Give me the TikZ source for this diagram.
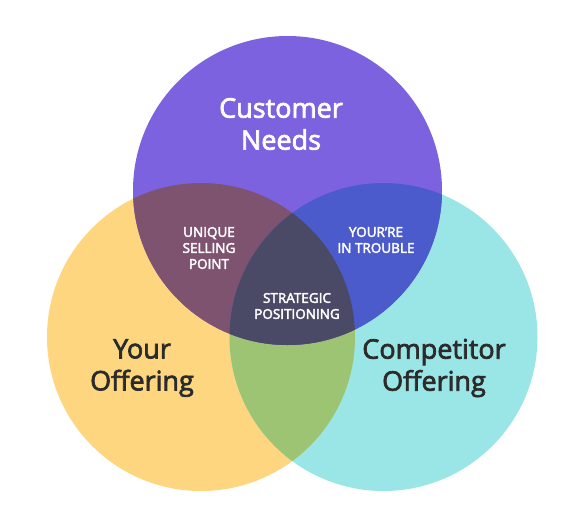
\documentclass[tikz,border=0pt]{standalone}
\usepackage{fontspec}
\setmainfont{Open Sans}
\newcommand\thick[2]{\special{pdf:literal direct 2 Tr #1 w}#2\special{pdf:literal direct 0 Tr}}
\definecolor{cpurple}{HTML}{7C62DE}
\definecolor{cyellow}{HTML}{FDD67F}
\definecolor{ccyan}{HTML}{9AE5E6}
\definecolor{cmaroon}{HTML}{7E5370}
\definecolor{cblue}{HTML}{4B5BCB}
\definecolor{cgreen}{HTML}{9DC473}
\definecolor{cdark}{HTML}{4A4A66}
\definecolor{ctext}{HTML}{2B2B2B}
\begin{document}
\begin{tikzpicture}[x=1pt,y=-1pt,
  bigw/.style={font=\fontsize{27}{32}\selectfont, text=white, align=center, inner sep=0},
  bigd/.style={font=\fontsize{27}{32}\selectfont, text=ctext, align=center, inner sep=0},
  smallw/.style={font=\fontsize{13.5}{16}\selectfont, text=white, align=center, inner sep=0}]
\useasboundingbox (0,0) rectangle (584,528);
\def\Top{(287.5,190.5) circle[radius=154.5]}
\def\Left{(201,337) circle[radius=154]}
\def\Right{(383.5,337) circle[radius=154]}
\fill[cyellow] \Left;
\fill[ccyan] \Right;
\fill[cpurple] \Top;
\begin{scope}\clip \Left; \fill[cgreen] \Right; \end{scope}
\begin{scope}\clip \Top; \fill[cmaroon] \Left; \end{scope}
\begin{scope}\clip \Top; \fill[cblue] \Right; \end{scope}
\begin{scope}\clip \Top; \clip \Left; \fill[cdark] \Right; \end{scope}
\node[bigw] (cust) at (281,124) {\thick{0.7}{Customer}\\\thick{0.7}{Needs}};
\node[bigd] (your) at (142,368) {\thick{0.7}{Your}\\\thick{0.7}{Offering}};
\node[bigd] (comp) at (434,368) {\thick{0.7}{Competitor}\\\thick{0.7}{Offering}};
\node[smallw] (usp) at (209,248) {\thick{0.4}{UNIQUE}\\\thick{0.4}{SELLING}\\\thick{0.4}{POINT}};
\node[smallw] (trouble) at (376,240) {\thick{0.4}{YOUR’RE}\\\thick{0.4}{IN TROUBLE}};
\node[smallw] (strat) at (297,306) {\thick{0.4}{STRATEGIC}\\\thick{0.4}{POSITIONING}};
\end{tikzpicture}
\end{document}
